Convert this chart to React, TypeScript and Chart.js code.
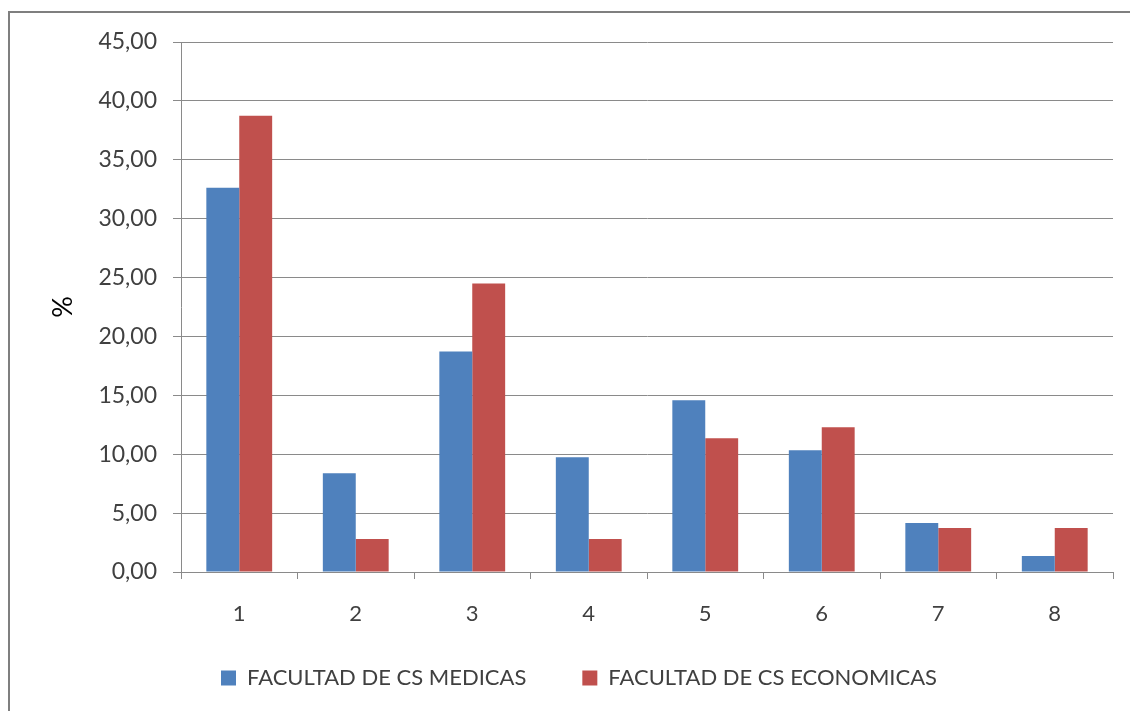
import { useEffect, useRef } from "react";
import { Chart, registerables } from "chart.js";

Chart.register(...registerables);

// Categories and series values (percentages)
const categories = ["1", "2", "3", "4", "5", "6", "7", "8"];
const medicas = [32.63, 8.39, 18.73, 9.75, 14.58, 10.34, 4.15, 1.36];
const economicas = [38.73, 2.8, 24.49, 2.8, 11.36, 12.29, 3.73, 3.73];
const seriesNames = ["FACULTAD DE CS MEDICAS", "FACULTAD DE CS ECONOMICAS"];
const seriesColors = ["#4F81BD", "#C0504D"];
const yAxisTitle = "%";
const yMin = 0;
const yMax = 45;
const yStep = 5;

const FONT = "Lato, 'Open Sans', sans-serif";
const GRID = "#8a8a8a";
const TEXT = "#404040";

// Gray frame around the chart, cut off at the right and bottom edges
const framePlugin = {
  id: "outerFrame",
  beforeDraw(chart: any) {
    const ctx = chart.ctx;
    ctx.save();
    ctx.fillStyle = "#ffffff";
    ctx.fillRect(0, 0, chart.width, chart.height);
    ctx.strokeStyle = "#7f7f7f";
    ctx.lineWidth = 2;
    ctx.beginPath();
    ctx.moveTo(9, chart.height + 5);
    ctx.lineTo(9, 12);
    ctx.lineTo(chart.width + 5, 12);
    ctx.stroke();
    ctx.restore();
  },
};

// Pull the legend row up closer to the axis labels
const legendShiftPlugin = {
  id: "legendShift",
  afterLayout(chart: any) {
    const lg = chart.legend;
    if (lg) {
      lg.top -= 21;
      lg.bottom -= 21;
    }
  },
};

export default function App() {
  const canvasRef = useRef<HTMLCanvasElement | null>(null);

  useEffect(() => {
    if (!canvasRef.current) return;
    const chart = new Chart(canvasRef.current, {
      type: "bar",
      data: {
        labels: categories,
        datasets: [
          {
            label: seriesNames[0],
            data: medicas,
            backgroundColor: seriesColors[0],
            borderWidth: 0,
            categoryPercentage: 0.565,
            barPercentage: 1,
          },
          {
            label: seriesNames[1],
            data: economicas,
            backgroundColor: seriesColors[1],
            borderWidth: 0,
            categoryPercentage: 0.565,
            barPercentage: 1,
          },
        ],
      },
      options: {
        responsive: false,
        animation: false,
        events: [],
        layout: { padding: { left: 45, right: 17, top: 42, bottom: 0 } },
        plugins: {
          tooltip: { enabled: false },
          legend: {
            position: "bottom",
            maxHeight: 79,
            labels: {
              boxWidth: 15,
              boxHeight: 15,
              padding: 56,
              color: TEXT,
              font: { family: FONT, size: 22 },
            },
          },
        },
        scales: {
          x: {
            grid: {
              display: true,
              drawOnChartArea: false,
              drawTicks: true,
              tickLength: 7,
              color: GRID,
              offset: true,
            },
            border: { color: GRID },
            ticks: { padding: 22, color: TEXT, font: { family: FONT, size: 22 } },
            afterFit(scale: any) {
              scale.height = 60;
            },
          },
          y: {
            min: yMin,
            max: yMax,
            ticks: {
              stepSize: yStep,
              padding: 16,
              color: TEXT,
              font: { family: FONT, size: 23 },
              callback: (v: any) => Number(v).toFixed(2).replace(".", ","),
            },
            grid: { color: GRID, lineWidth: 1, tickLength: 8, drawTicks: true },
            border: { color: GRID },
            title: {
              display: true,
              text: yAxisTitle,
              color: "#000000",
              font: { family: FONT, size: 27 },
              padding: { top: 2, bottom: 0 },
            },
            afterFit(scale: any) {
              scale.width = 136;
            },
          },
        },
      } as any,
      plugins: [framePlugin, legendShiftPlugin],
    });
    return () => chart.destroy();
  }, []);

  return (
    <div style={{ position: "absolute", left: 0, top: 0, width: 1130, height: 711 }}>
      <canvas ref={canvasRef} width={1130} height={711} style={{ display: "block" }} />
    </div>
  );
}
